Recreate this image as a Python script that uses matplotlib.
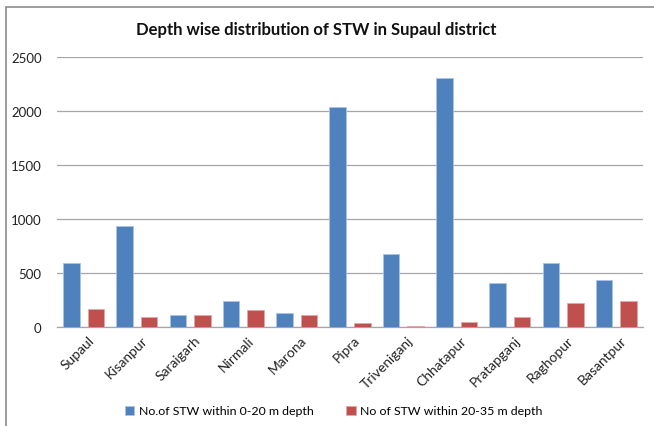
import matplotlib
matplotlib.use("Agg")
import matplotlib.pyplot as plt
import matplotlib.transforms as mtransforms
import numpy as np
from matplotlib.patches import Rectangle

plt.rcParams['font.family'] = ['Lato', 'DejaVu Sans']

blocks = ["Supaul", "Kisanpur", "Saraigarh", "Nirmali", "Marona", "Pipra",
          "Triveniganj", "Chhatapur", "Pratapganj", "Raghopur", "Basantpur"]
stw_0_20 = [590, 930, 110, 240, 130, 2030, 670, 2300, 405, 590, 435]
stw_20_35 = [160, 87, 110, 155, 105, 37, 7, 43, 87, 217, 240]
series_names = ["No.of STW within 0-20 m depth", "No of STW within 20-35 m depth"]
yticks = [0, 500, 1000, 1500, 2000, 2500]

blue = "#4F81BD"
red = "#C0504D"

fig = plt.figure(figsize=(6.54, 4.27), dpi=100)
fig.patch.set_facecolor("white")

# outer chart frame
fig.patches.append(Rectangle((6 / 654, -0.2), 1.2, 1.2 - 8 / 427,
                             transform=fig.transFigure, fill=False,
                             edgecolor="#8c8c8c", linewidth=1.2))

ax = fig.add_axes([57 / 654, 1 - 327.7 / 427, (643 - 57) / 654, 270 / 427])
x = np.arange(len(blocks))
w = 0.31
off = 0.23
ax.bar(x - off, stw_0_20, width=w, color=blue, edgecolor="#a9c4e6",
       linewidth=0.6, label=series_names[0], zorder=3)
ax.bar(x + off, stw_20_35, width=w, color=red, edgecolor="#e0a8a6",
       linewidth=0.6, label=series_names[1], zorder=3)

ax.set_xlim(-0.5, len(blocks) - 0.5)
ax.set_ylim(0, 2500)
ax.set_yticks(yticks)
ax.set_yticklabels([str(v) for v in yticks], fontsize=9.5, color="#222222")
ax.yaxis.grid(True, color="#a6a6a6", linewidth=0.9, zorder=0)
ax.tick_params(axis="y", length=0, pad=11)
ax.tick_params(axis="x", length=0, pad=5)
ax.set_xticks(x)
ax.set_xticklabels(blocks, rotation=45, ha="right", rotation_mode="anchor",
                   fontsize=10, color="#222222")
shift = mtransforms.ScaledTranslation(4 / 100, 0, fig.dpi_scale_trans)
for lbl in ax.get_xticklabels():
    lbl.set_transform(lbl.get_transform() + shift)
for s in ["top", "right", "left"]:
    ax.spines[s].set_visible(False)
ax.spines["bottom"].set_color("#a6a6a6")
ax.spines["bottom"].set_linewidth(0.9)

fig.text(316 / 654, 1 - 30 / 427, "Depth wise distribution of STW in Supaul district",
         ha="center", va="center", fontsize=12, fontweight="bold", color="#111111")

fig.legend(loc="center", bbox_to_anchor=(334 / 654, 1 - 412 / 427), ncol=2,
           frameon=False, fontsize=8.9, handlelength=0.75, handleheight=0.75,
           handletextpad=0.4, columnspacing=2.6)

fig.savefig("out.png", dpi=100, facecolor="white")
